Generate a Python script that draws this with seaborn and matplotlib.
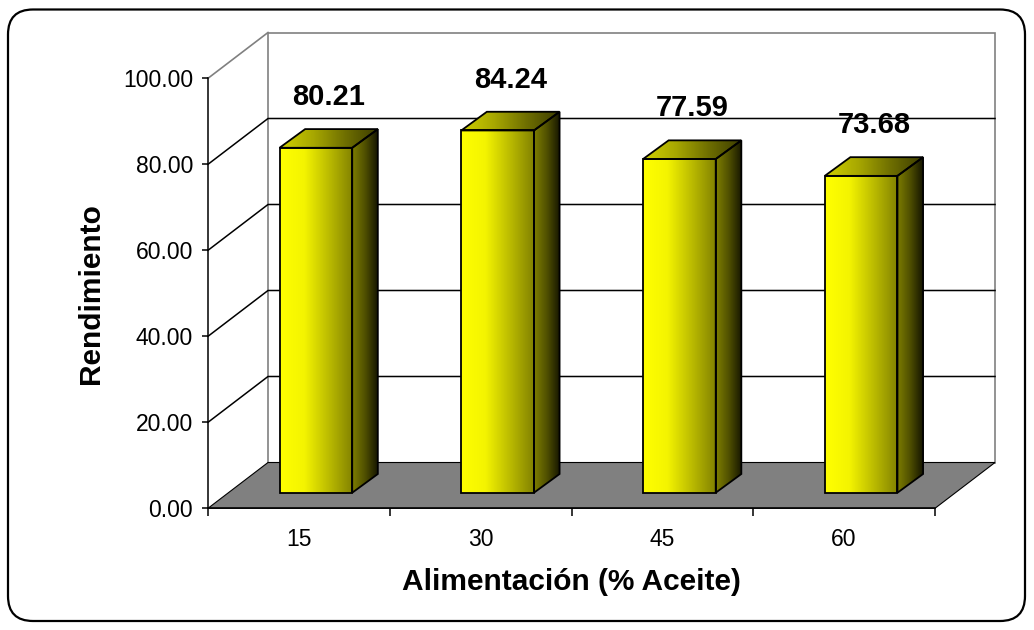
import numpy as np
import matplotlib
matplotlib.use('Agg')
import matplotlib.pyplot as plt
from matplotlib.patches import Polygon, FancyBboxPatch
from matplotlib.colors import LinearSegmentedColormap
import seaborn as sns

# data
feed = ['15', '30', '45', '60']
rendimiento = [80.21, 84.24, 77.59, 73.68]
y_ticks = [0, 20, 40, 60, 80, 100]

plt.rcParams['font.family'] = ['Liberation Sans', 'DejaVu Sans']

W, H = 1034, 630
fig = plt.figure(figsize=(W / 100, H / 100), dpi=100)
ax = fig.add_axes([208 / W, (H - 508.3) / H, 727 / W, 430 / H])

sns.barplot(x=feed, y=rendimiento, ax=ax, width=0.4, color='#ffff00',
            errorbar=None, zorder=4)
bars = list(ax.patches)
ax.set_xlim(-0.5, 3.5)
ax.set_ylim(0, 100)

# pixel -> data conversion for the fake 3d depth
px = ax.bbox.width / 4.0
py = ax.bbox.height / 100.0
FD = (60 / px, 45.8 / py)     # floor depth
BF = (17 / px, 15.6 / py)     # bar front offset
BD = (25.6 / px, 18.7 / py)   # bar depth
xl, xr = -0.5, 3.5

# back wall + gridlines
ax.add_patch(Polygon([(xl + FD[0], FD[1]), (xr + FD[0], FD[1]),
                      (xr + FD[0], 100 + FD[1]), (xl + FD[0], 100 + FD[1])],
                     closed=True, fc='white', ec='#808080', lw=1.2,
                     clip_on=False, zorder=0.5))
ax.plot([xl, xl + FD[0]], [100, 100 + FD[1]], color='#808080', lw=1.2,
        clip_on=False, zorder=0.6)
for v in y_ticks[1:-1]:
    ax.plot([xl, xl + FD[0], xr + FD[0]], [v, v + FD[1], v + FD[1]],
            color='black', lw=1.1, clip_on=False, zorder=0.6)

# floor
ax.add_patch(Polygon([(xl, 0), (xr, 0), (xr + FD[0], FD[1]), (xl + FD[0], FD[1])],
                     closed=True, fc='#808080', ec='black', lw=0.8,
                     clip_on=False, zorder=0.7))

cm_front = LinearSegmentedColormap.from_list('f', ['#ffff00', '#f4f400', '#bcbc00', '#828200'])
cm_side = LinearSegmentedColormap.from_list('s', ['#7e7e00', '#505000', '#161600'])
cm_top = LinearSegmentedColormap.from_list('t', ['#d0d000', '#a8a800', '#6e6e00', '#3c3c00'])
grad = np.linspace(0, 1, 256).reshape(1, -1)

for p, v in zip(bars, rendimiento):
    p.set_x(p.get_x() + BF[0])
    p.set_y(BF[1])
    p.set_facecolor('none')
    p.set_edgecolor('black')
    p.set_linewidth(1.3)
    x0, w, y0, h = p.get_x(), p.get_width(), p.get_y(), p.get_height()

    ax.imshow(grad, cmap=cm_front, extent=(x0, x0 + w, y0, y0 + h), aspect='auto',
              origin='lower', interpolation='bilinear', zorder=3, clip_path=p)

    side = Polygon([(x0 + w, y0), (x0 + w + BD[0], y0 + BD[1]),
                    (x0 + w + BD[0], y0 + h + BD[1]), (x0 + w, y0 + h)],
                   closed=True, fc='none', ec='black', lw=1.3, zorder=4,
                   transform=ax.transData)
    ax.add_patch(side)
    ax.imshow(grad, cmap=cm_side, extent=(x0 + w, x0 + w + BD[0], y0, y0 + h + BD[1]),
              aspect='auto', origin='lower', interpolation='bilinear', zorder=3,
              clip_path=side)

    top = Polygon([(x0, y0 + h), (x0 + w, y0 + h), (x0 + w + BD[0], y0 + h + BD[1]),
                   (x0 + BD[0], y0 + h + BD[1])],
                  closed=True, fc='none', ec='black', lw=1.3, zorder=4,
                  transform=ax.transData)
    ax.add_patch(top)
    ax.imshow(grad, cmap=cm_top, extent=(x0, x0 + w + BD[0], y0 + h, y0 + h + BD[1]),
              aspect='auto', origin='lower', interpolation='bilinear', zorder=3,
              clip_path=top)

    ax.text(x0 + w / 2 + BD[0] / 2, v + BF[1] + 42.7 / py, f'{v:.2f}',
            ha='center', va='baseline', fontsize=21, fontweight='bold',
            zorder=6, clip_on=False)

ax.set_xlim(-0.5, 3.5)
ax.set_ylim(0, 100)

# axes styling
for s in ['top', 'right']:
    ax.spines[s].set_visible(False)
for s in ['left', 'bottom']:
    ax.spines[s].set_color('black')
    ax.spines[s].set_linewidth(1.1)
    ax.spines[s].set_zorder(5)
ax.set_yticks(y_ticks)
ax.set_yticklabels([f'{t:.2f}' for t in y_ticks])
ax.tick_params(axis='y', length=4.3, width=1.1, pad=6.5, labelsize=16.5, colors='black')
ax.tick_params(axis='x', which='major', length=0, pad=14, labelsize=16.5, colors='black')
ax.set_xticks([-0.5, 0.5, 1.5, 2.5, 3.5], minor=True)
ax.tick_params(axis='x', which='minor', length=5.8, width=1.1, colors='black')

ax.set_xlabel('Alimentación (% Aceite)', fontsize=21.5, fontweight='bold')
ax.xaxis.set_label_coords(0.5, -0.139)
ax.set_ylabel('Rendimiento', fontsize=21.5, fontweight='bold')
ax.yaxis.set_label_coords(-0.142, 0.5)

# rounded outer frame
fig.add_artist(FancyBboxPatch((0.08, 0.09), 10.17, 6.115,
                              boxstyle='round,pad=0,rounding_size=0.25',
                              transform=fig.dpi_scale_trans, fill=False,
                              ec='black', lw=1.6))

fig.savefig('out.png', dpi=100)
